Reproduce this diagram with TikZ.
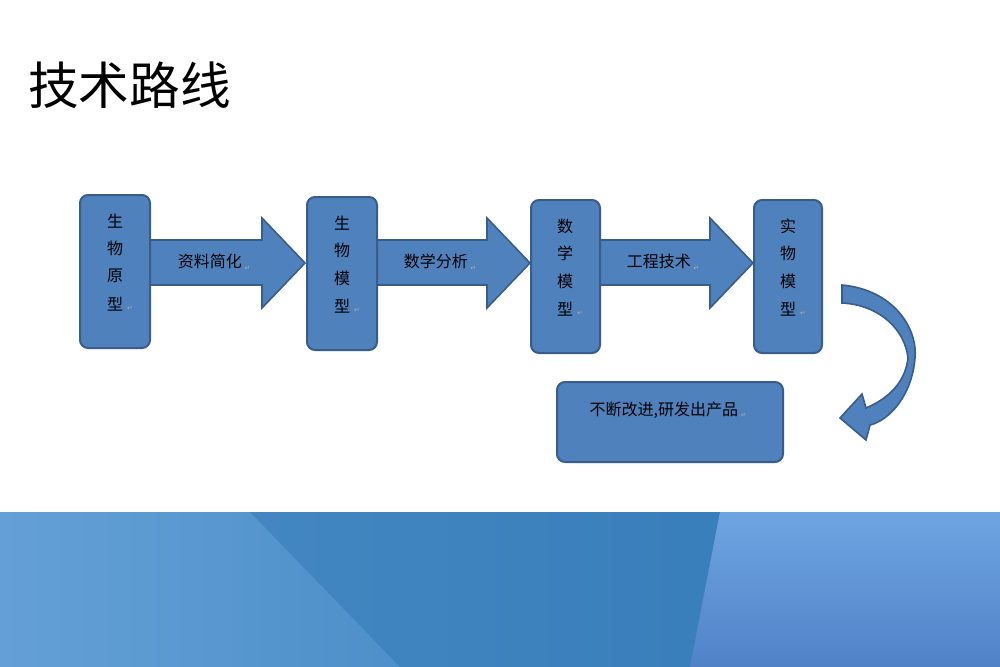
\documentclass[tikz,border=0pt]{standalone}
\usepackage{fontspec}
\newfontfamily\cjk{Noto Sans CJK SC}
\newfontfamily\djv{DejaVu Sans}
\definecolor{bfill}{HTML}{4F81BD}
\definecolor{bedge}{HTML}{385D8A}
\definecolor{bandA}{RGB}{100,160,215}
\definecolor{bandB}{RGB}{60,130,190}
\definecolor{bandC}{RGB}{55,125,185}
\definecolor{bandD}{RGB}{110,165,225}
\definecolor{bandE}{RGB}{80,130,200}
\tikzset{x=0.75pt,y=-0.75pt,
 vbox/.style={draw=bedge,line width=1.5pt,fill=bfill,rounded corners=6pt},
 barrow/.style={draw=bedge,line width=1.2pt,fill=bfill},
 lbl/.style={font=\cjk\fontsize{12}{14}\selectfont,text=black,inner sep=0pt},
 mk/.style={font=\djv\fontsize{5}{5}\selectfont,text=gray!60,inner sep=0pt}}
\begin{document}
\begin{tikzpicture}
\useasboundingbox (0,0) rectangle (1000,667);
\fill[white] (0,0) rectangle (1000,667);
% bottom band
\shade[left color=bandA, right color=bandB] (0,512) rectangle (720,667);
\fill[bandC,opacity=0.6] (250,512) -- (720,512) -- (690,667) -- (400,667) -- cycle;
\shade[top color=bandD, bottom color=bandE] (720,512) -- (1000,512) -- (1000,667) -- (690,667) -- cycle;
\node[font=\cjk\fontsize{38}{44}\selectfont,anchor=west,inner sep=0pt] (title) at (28,85) {技术路线};
% arrows
\foreach \a/\b/\t/\n in {150/305/资料简化/a1,377/530/数学分析/a2,600/753/工程技术/a3}{
 \draw[barrow] (\a,240) -- (\b-43,240) -- (\b-43,218) -- (\b,263) -- (\b-43,308) -- (\b-43,285) -- (\a,285) -- cycle;
 \node[lbl] (\n) at ({(\a+\b-43)/2+8},262) {\t\,\raisebox{-2pt}{\djv\tiny\color{gray!60}↵}};
}
% boxes
\draw[vbox] (80,195) rectangle (150,348); \node (b1) at (115,271) {};
\draw[vbox] (307,197) rectangle (377,350); \node (b2) at (342,273) {};
\draw[vbox] (531,200) rectangle (600,353); \node (b3) at (565,276) {};
\draw[vbox] (754,200) rectangle (822,353); \node (b4) at (788,276) {};
\foreach \x/\y/\s in {115/221/生,115/248/物,115/276/原,115/304/型,
 342/223/生,342/250/物,342/278/模,342/306/型,
 565/226/数,565/253/学,565/281/模,565/309/型,
 788/226/实,788/253/物,788/281/模,788/309/型}{
 \node[lbl] at (\x,\y) {\s};}
\foreach \x/\y in {130/308,357/310,580/313,803/313}{\node[mk] at (\x,\y) {↵};}
% bottom box
\draw[vbox] (557,382) rectangle (783,462);
\node[lbl] (b5) at (668,410) {不断改进,研发出产品\,\raisebox{-2pt}{\djv\tiny\color{gray!60}↵}};
% curved arrow
\draw[barrow] (842,285) .. controls (895,290) and (918,330) .. (915,358)
 .. controls (912,395) and (890,420) .. (870,425) -- (866,440) -- (840,418) -- (862,394) -- (866,408)
 .. controls (885,400) and (905,385) .. (908,358)
 .. controls (905,330) and (880,305) .. (842,303) -- cycle;
\end{tikzpicture}
\end{document}
